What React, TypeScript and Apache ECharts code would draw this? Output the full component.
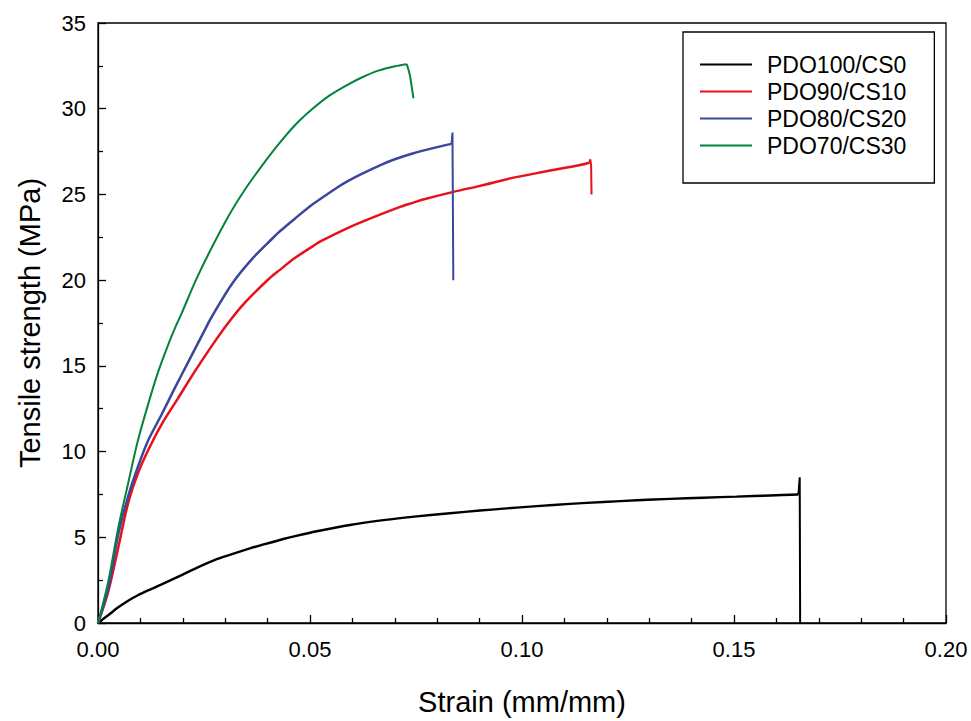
import React, { useEffect, useRef } from "react";
import * as echarts from "echarts";

const FONT = "'Liberation Sans', Arial, Helvetica, sans-serif";

const seriesNames = ["PDO100/CS0", "PDO90/CS10", "PDO80/CS20", "PDO70/CS30"];
const seriesColors = ["#000000", "#e8101a", "#3a479c", "#05823c"];

const xTicks = [0, 0.05, 0.1, 0.15, 0.2];
const yTicks = [0, 5, 10, 15, 20, 25, 30, 35];

const pdo100Strain = [0, 0.0024, 0.0047, 0.0071, 0.0094, 0.0118, 0.015, 0.0201, 0.0228, 0.028, 0.0307, 0.0358, 0.0386, 0.0437, 0.0465, 0.0516, 0.0594, 0.0673, 0.0752, 0.083, 0.0901, 0.0956, 0.1035, 0.1113, 0.1192, 0.1271, 0.1349, 0.1428, 0.1506, 0.1585, 0.1652, 0.1655, 0.1656];
const pdo100Stress = [0, 0.45, 0.9, 1.3, 1.62, 1.9, 2.25, 2.84, 3.16, 3.72, 3.95, 4.35, 4.55, 4.9, 5.07, 5.35, 5.72, 6.0, 6.22, 6.4, 6.56, 6.67, 6.82, 6.95, 7.06, 7.16, 7.24, 7.31, 7.37, 7.44, 7.5, 8.5, 0];

const pdo90Strain = [0, 0.0024, 0.0047, 0.0071, 0.0094, 0.0118, 0.015, 0.0189, 0.0228, 0.0268, 0.0307, 0.0347, 0.0402, 0.0429, 0.0465, 0.0508, 0.0528, 0.059, 0.0653, 0.0716, 0.0744, 0.0767, 0.0838, 0.0901, 0.098, 0.1058, 0.1137, 0.1159, 0.1161, 0.1163, 0.1164];
const pdo90Stress = [0, 1.82, 4.31, 6.99, 8.72, 10.06, 11.59, 13.12, 14.66, 16.15, 17.5, 18.7, 20.05, 20.6, 21.3, 22.0, 22.3, 23.05, 23.7, 24.3, 24.52, 24.7, 25.15, 25.5, 25.98, 26.35, 26.72, 26.85, 27.05, 26.7, 25.0];

const pdo80Strain = [0, 0.0024, 0.0047, 0.0071, 0.0094, 0.0118, 0.015, 0.0181, 0.0213, 0.0252, 0.0268, 0.0315, 0.0362, 0.041, 0.0429, 0.0465, 0.0508, 0.0567, 0.0587, 0.0622, 0.0665, 0.07, 0.0744, 0.079, 0.0834, 0.0836, 0.0838];
const pdo80Stress = [0, 2.01, 5.08, 7.38, 9.1, 10.63, 12.16, 13.7, 15.23, 17.1, 17.85, 19.75, 21.2, 22.4, 22.85, 23.6, 24.45, 25.45, 25.75, 26.2, 26.7, 27.05, 27.4, 27.7, 27.95, 28.61, 20.0];

const pdo70Strain = [0, 0.0024, 0.0047, 0.0071, 0.0094, 0.0118, 0.0142, 0.0165, 0.0185, 0.0197, 0.0229, 0.026, 0.0307, 0.0347, 0.0386, 0.0425, 0.0465, 0.0504, 0.0543, 0.0583, 0.0622, 0.0661, 0.07, 0.0728, 0.0732, 0.0736, 0.0744];
const pdo70Stress = [0, 2.39, 5.46, 8.14, 10.63, 12.74, 14.66, 16.2, 17.4, 18.05, 19.9, 21.5, 23.7, 25.3, 26.65, 27.9, 29.05, 29.95, 30.72, 31.32, 31.82, 32.22, 32.48, 32.6, 32.3, 31.91, 30.61];

// index at which the fracture (final drop) begins in each curve
const fractureIndex = [30, 27, 24, 23];

const strains = [pdo100Strain, pdo90Strain, pdo80Strain, pdo70Strain];
const stresses = [pdo100Stress, pdo90Stress, pdo80Stress, pdo70Stress];
const lineWidths = [2.4, 2.5, 2.5, 2.0];

export default function App() {
  const ref = useRef<HTMLDivElement>(null);
  useEffect(() => {
    if (!ref.current) return;
    const chart = echarts.init(ref.current, undefined, { renderer: "svg" });
    const series: any[] = [];
    seriesNames.forEach((name, i) => {
      const pts = strains[i].map((x, j) => [x, stresses[i][j]]);
      const k = fractureIndex[i];
      series.push({
        name,
        type: "line",
        data: pts.slice(0, k + 1),
        showSymbol: false,
        symbol: "none",
        smooth: 0.3,
        lineStyle: { color: seriesColors[i], width: lineWidths[i] },
        itemStyle: { color: seriesColors[i] },
        z: 3 + i,
      });
      series.push({
        name,
        type: "line",
        data: pts.slice(k),
        showSymbol: false,
        symbol: "none",
        smooth: false,
        lineStyle: { color: seriesColors[i], width: Math.min(lineWidths[i], 2) },
        itemStyle: { color: seriesColors[i] },
        z: 3 + i,
      });
    });
    chart.setOption({
      animation: false,
      backgroundColor: "#ffffff",
      textStyle: { fontFamily: FONT },
      grid: {
        left: 98,
        right: 25,
        top: 23,
        bottom: 90,
        show: true,
        borderColor: "#000",
        borderWidth: 1.3,
        backgroundColor: "transparent",
      },
      legend: {
        data: seriesNames.map((n, i) => ({ name: n, itemStyle: { color: seriesColors[i] } })),
        orient: "vertical",
        left: 683,
        top: 32,
        padding: [21, 28, 26, 17],
        icon: "rect",
        itemWidth: 52,
        itemHeight: 2,
        itemGap: 4,
        backgroundColor: "#fff",
        borderColor: "#000",
        borderWidth: 1.3,
        borderRadius: 0,
        textStyle: {
          fontFamily: FONT,
          fontSize: 23,
          color: "#000",
          lineHeight: 22,
          padding: [0, 0, 0, 10],
        },
      },
      xAxis: {
        type: "value",
        min: xTicks[0],
        max: xTicks[xTicks.length - 1],
        interval: 0.05,
        name: "Strain (mm/mm)",
        nameLocation: "middle",
        nameGap: 64,
        nameTextStyle: { fontFamily: FONT, fontSize: 29, color: "#000" },
        axisLine: { show: true, onZero: false, lineStyle: { color: "#000", width: 1.3 } },
        axisTick: { show: true, inside: true, length: 8, lineStyle: { color: "#000", width: 1.3 } },
        minorTick: { show: true, splitNumber: 5, length: 5, lineStyle: { color: "#000", width: 1.3 } },
        splitLine: { show: false },
        axisLabel: {
          fontFamily: FONT,
          fontSize: 22,
          color: "#000",
          margin: 15,
          formatter: (v: number) => v.toFixed(2),
        },
      },
      yAxis: {
        type: "value",
        min: yTicks[0],
        max: yTicks[yTicks.length - 1],
        interval: 5,
        name: "Tensile strength (MPa)",
        nameLocation: "middle",
        nameGap: 54,
        nameTextStyle: { fontFamily: FONT, fontSize: 29, color: "#000" },
        axisLine: { show: true, onZero: false, lineStyle: { color: "#000", width: 1.3 } },
        axisTick: { show: true, inside: true, length: 8, lineStyle: { color: "#000", width: 1.3 } },
        minorTick: { show: true, splitNumber: 2, length: 5, lineStyle: { color: "#000", width: 1.3 } },
        splitLine: { show: false },
        axisLabel: {
          fontFamily: FONT,
          fontSize: 22,
          color: "#000",
          margin: 12,
        },
      },
      series,
    });
    return () => chart.dispose();
  }, []);
  return (
    <div
      ref={ref}
      style={{ position: "fixed", left: 0, top: 0, width: 971, height: 721, background: "#fff" }}
    />
  );
}
